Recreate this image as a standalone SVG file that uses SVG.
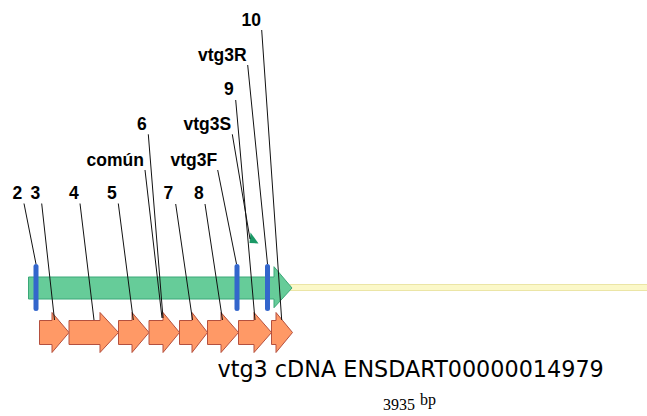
<svg xmlns="http://www.w3.org/2000/svg" width="647" height="416" viewBox="0 0 647 416">
<style>
.lbl{font-family:"Liberation Sans",Arial,sans-serif;font-weight:bold;font-size:17.5px;fill:#000}
.orf{fill:#ff9966;stroke:#b5503e;stroke-width:1}
.site{fill:#3366cc}
.lead{stroke:#111;stroke-width:1;fill:none}
</style>
<rect width="647" height="416" fill="#fff"/>
<g id="backbone">
<rect x="290" y="284.5" width="360" height="6" fill="#fbf8c8" stroke="#ebe5a6" stroke-width="1"/>
</g>
<g id="cds">
<path d="M28.5,277 L274,277 L274,266.7 L292,288 L274,307.7 L274,299 L28.5,299 Z" fill="#66cc99" stroke="#3aa878" stroke-width="1"/>
</g>
<g id="site-2"><rect class="site" x="33.5" y="264" width="5" height="47" rx="2.5"/></g>
<g id="site-vtg3F"><rect class="site" x="234.5" y="264" width="5" height="47" rx="2.5"/></g>
<g id="site-vtg3R"><rect class="site" x="265" y="264" width="5" height="47" rx="2.5"/></g>
<g id="primer-vtg3S"><polygon points="250.5,232.5 258.5,243.5 249.5,243" fill="#1a9966"/></g>
<g id="exon-3"><path class="orf" d="M39.5,320.5 L52,320.5 L52,312.5 L69,332.5 L52,352.5 L52,344.5 L39.5,344.5 Z"/></g>
<g id="exon-4"><path class="orf" d="M69,320.5 L100,320.5 L100,312.5 L118.5,332.5 L100,352.5 L100,344.5 L69,344.5 Z"/></g>
<g id="exon-5"><path class="orf" d="M118.5,320.5 L132,320.5 L132,312.5 L149,332.5 L132,352.5 L132,344.5 L118.5,344.5 Z"/></g>
<g id="exon-6"><path class="orf" d="M149,320.5 L163,320.5 L163,312.5 L179.5,332.5 L163,352.5 L163,344.5 L149,344.5 Z"/></g>
<g id="exon-7"><path class="orf" d="M179.5,320.5 L192,320.5 L192,312.5 L207.5,332.5 L192,352.5 L192,344.5 L179.5,344.5 Z"/></g>
<g id="exon-8"><path class="orf" d="M207.5,320.5 L221,320.5 L221,312.5 L238.5,332.5 L221,352.5 L221,344.5 L207.5,344.5 Z"/></g>
<g id="exon-9"><path class="orf" d="M238.5,320.5 L254,320.5 L254,312.5 L271.5,332.5 L254,352.5 L254,344.5 L238.5,344.5 Z"/></g>
<g id="exon-10"><path class="orf" d="M271.5,320.5 L276,320.5 L276,312.5 L292.5,332.5 L276,352.5 L276,344.5 L271.5,344.5 Z"/></g>
<g id="connectors">
<line class="lead" x1="24" y1="203.5" x2="36" y2="264"/>
<line class="lead" x1="41.7" y1="203.5" x2="54.5" y2="320"/>
<line class="lead" x1="80" y1="203.5" x2="94" y2="320"/>
<line class="lead" x1="118.3" y1="203.5" x2="133.3" y2="320"/>
<line class="lead" x1="145" y1="170" x2="162" y2="318"/>
<line class="lead" x1="148.3" y1="134.3" x2="163" y2="318"/>
<line class="lead" x1="175.7" y1="204" x2="192.5" y2="320"/>
<line class="lead" x1="205" y1="204" x2="222.5" y2="320"/>
<line class="lead" x1="217.7" y1="170" x2="236.5" y2="264"/>
<line class="lead" x1="232.3" y1="134.3" x2="250" y2="239"/>
<line class="lead" x1="235.7" y1="100" x2="255" y2="320"/>
<line class="lead" x1="247.7" y1="65" x2="267.5" y2="264"/>
<line class="lead" x1="261.7" y1="30" x2="281.7" y2="320"/>
</g>
<g id="labels">
<text class="lbl" x="12.5" y="199">2</text>
<text class="lbl" x="30.5" y="199">3</text>
<text class="lbl" x="69" y="199">4</text>
<text class="lbl" x="107" y="199">5</text>
<text class="lbl" x="86.5" y="165.5">común</text>
<text class="lbl" x="137" y="129.5">6</text>
<text class="lbl" x="163.5" y="199">7</text>
<text class="lbl" x="194" y="199">8</text>
<text class="lbl" x="170.5" y="165.5">vtg3F</text>
<text class="lbl" x="183.5" y="129.5">vtg3S</text>
<text class="lbl" x="224" y="95">9</text>
<text class="lbl" x="198" y="60.5">vtg3R</text>
<text class="lbl" x="241.5" y="26">10</text>
</g>
<g id="title">
<text x="217.5" y="376.5" font-family="'DejaVu Sans',Verdana,sans-serif" font-size="22.3" fill="#000">vtg3 cDNA ENSDART00000014979</text>
<text x="383" y="410" font-family="'Liberation Serif','Times New Roman',serif" font-size="16" fill="#000">3935</text>
<text x="420" y="405" font-family="'Liberation Serif','Times New Roman',serif" font-size="16" fill="#000">bp</text>
</g>
</svg>
